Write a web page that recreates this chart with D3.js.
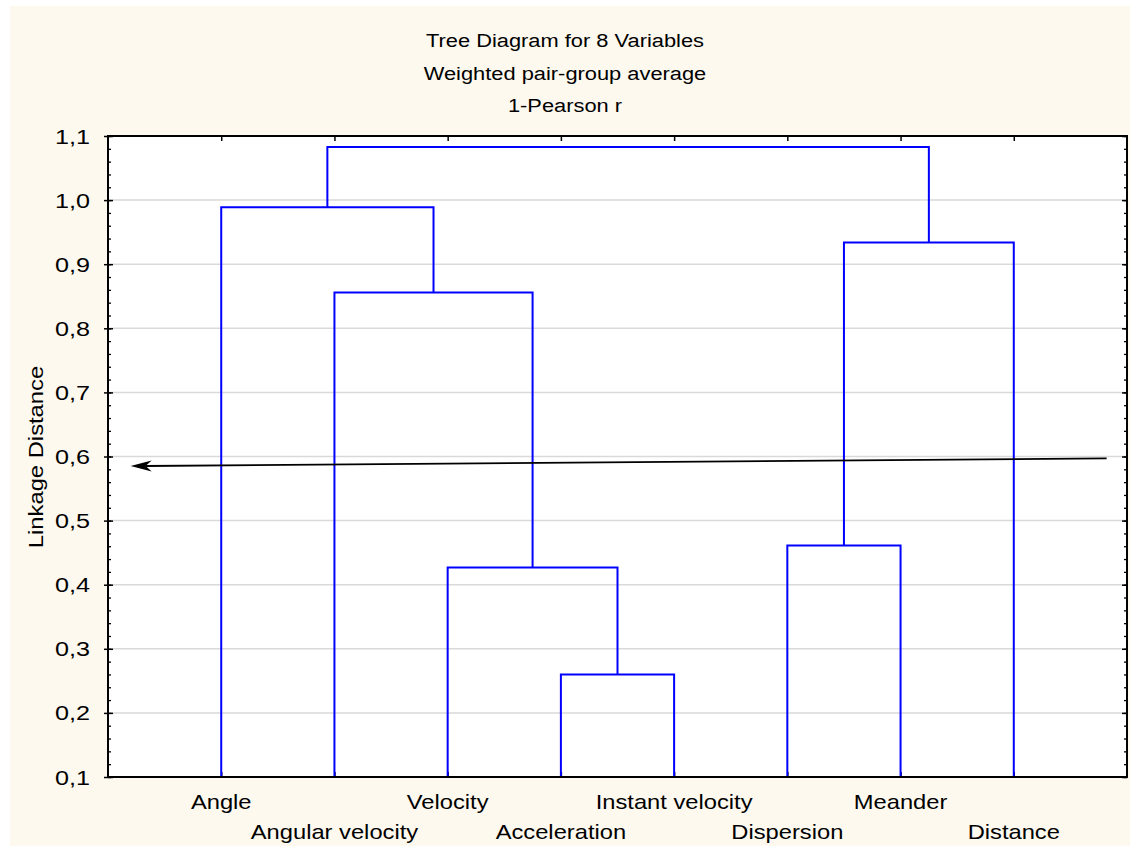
<!DOCTYPE html>
<html>
<head>
<meta charset="utf-8">
<script src="https://cdn.jsdelivr.net/npm/d3@7"></script>
<style>
  html, body { margin: 0; padding: 0; background: #ffffff; }
  svg { display: block; }
  text { font-family: "Liberation Sans", Arial, sans-serif; fill: #000; }
</style>
</head>
<body>
<svg id="chart" width="1130" height="846"></svg>
<script>
// ---- data ----
const leaves = ["Angle", "Angular velocity", "Velocity", "Acceleration",
                "Instant velocity", "Dispersion", "Meander", "Distance"];
// merges: child ids (0-7 leaves, 8+ = earlier merges in this list)
const mergeLeft   = [3, 2, 1, 0, 5, 12, 11];
const mergeRight  = [4, 8, 9, 10, 6, 7, 13];
const mergeHeight = [0.26, 0.427, 0.856, 0.989, 0.461, 0.934, 1.083];
const yTicks = [0.1, 0.2, 0.3, 0.4, 0.5, 0.6, 0.7, 0.8, 0.9, 1.0, 1.1];
const titles = ["Tree Diagram for 8 Variables", "Weighted pair-group average", "1-Pearson r"];
const yTitle = "Linkage Distance";
// annotation arrow (data units): from [x,y] to [x,y]
const arrowFrom = [8.82, 0.597];
const arrowTo   = [0.20, 0.585];

// ---- layout ----
const svg = d3.select("#chart");
const L = 108, R = 1127, T = 136, B = 777;
const x = d3.scaleLinear().domain([0, leaves.length + 1]).range([L, R]);
const y = d3.scaleLinear().domain([0.1, 1.1]).range([B, T]);

// helper: text with horizontal stretch
function stretchedText(g, tx, ty, str, size, sx, anchor, rot) {
  return g.append("text")
    .attr("transform", `translate(${tx},${ty})` + (rot ? ` rotate(${rot})` : "") + ` scale(${sx},1)`)
    .attr("text-anchor", anchor).attr("font-size", size).text(str);
}

// background panel
svg.append("rect").attr("x", 10).attr("y", 6).attr("width", 1120).attr("height", 840)
  .attr("fill", "#fdf9ef");
svg.append("rect").attr("x", L).attr("y", T).attr("width", R - L).attr("height", B - T)
  .attr("fill", "#ffffff");

// gridlines
svg.append("g").selectAll("line").data(yTicks.slice(1, -1)).join("line")
  .attr("x1", L).attr("x2", R)
  .attr("y1", d => y(d)).attr("y2", d => y(d))
  .attr("stroke", "#d9d9d9").attr("stroke-width", 1.5);

// axes ticks
const fmt = d => d3.format(".1f")(d).replace(".", ",");
const minorTicks = d3.range(0, 51).map(i => 0.1 + i * 0.02);

const gL = svg.append("g").attr("transform", `translate(${L},0)`)
  .call(d3.axisLeft(y).tickValues(yTicks).tickSize(4).tickFormat(""));
gL.select(".domain").remove();
gL.selectAll(".tick line").attr("x2", 5).attr("x1", -4).attr("stroke", "#000").attr("stroke-width", 1.5);
svg.append("g").attr("transform", `translate(${L},0)`).call(d3.axisRight(y).tickValues(minorTicks).tickSize(3).tickFormat(""))
  .call(g => g.select(".domain").remove())
  .selectAll("line").attr("stroke", "#000").attr("stroke-width", 1.3);

const gR = svg.append("g").attr("transform", `translate(${R},0)`)
  .call(d3.axisLeft(y).tickValues(yTicks).tickSize(5).tickFormat(""));
gR.select(".domain").remove();
gR.selectAll("line").attr("stroke", "#000").attr("stroke-width", 1.5);
svg.append("g").attr("transform", `translate(${R},0)`).call(d3.axisLeft(y).tickValues(minorTicks).tickSize(3).tickFormat(""))
  .call(g => g.select(".domain").remove())
  .selectAll("line").attr("stroke", "#000").attr("stroke-width", 1.3);

const leafPos = leaves.map((d, i) => i + 1);
const gT = svg.append("g").attr("transform", `translate(0,${T})`)
  .call(d3.axisBottom(x).tickValues(leafPos).tickSize(5).tickFormat(""));
gT.select(".domain").remove();
gT.selectAll("line").attr("stroke", "#000").attr("stroke-width", 1.5);
const gB = svg.append("g").attr("transform", `translate(0,${B})`)
  .call(d3.axisTop(x).tickValues(leafPos).tickSize(5).tickFormat(""));
gB.select(".domain").remove();
gB.selectAll("line").attr("stroke", "#000").attr("stroke-width", 1.5);

// y tick labels
const gYL = svg.append("g");
yTicks.forEach(v => stretchedText(gYL, 90, y(v) + 7.5, fmt(v), 21, 1.2, "end"));

// x labels (alternating rows)
const gXL = svg.append("g");
leaves.forEach((d, i) => stretchedText(gXL, x(i + 1), i % 2 === 0 ? 808.5 : 838.5, d, 21, 1.13, "middle"));

// dendrogram
const nodeX = leaves.map((d, i) => i + 1);
const nodeH = leaves.map(() => 0.1);
mergeLeft.forEach((a, k) => {
  const b = mergeRight[k];
  nodeX.push((nodeX[a] + nodeX[b]) / 2);
  nodeH.push(mergeHeight[k]);
});
const links = mergeLeft.map((a, k) => {
  const b = mergeRight[k];
  const h = mergeHeight[k];
  const p = d3.path();
  p.moveTo(x(nodeX[a]), y(nodeH[a]));
  p.lineTo(x(nodeX[a]), y(h));
  p.lineTo(x(nodeX[b]), y(h));
  p.lineTo(x(nodeX[b]), y(nodeH[b]));
  return p.toString();
});
svg.append("g").selectAll("path").data(links).join("path")
  .attr("d", d => d).attr("fill", "none")
  .attr("stroke", "#0000ff").attr("stroke-width", 2);

// plot border
svg.append("rect").attr("x", L).attr("y", T).attr("width", R - L).attr("height", B - T)
  .attr("fill", "none").attr("stroke", "#000").attr("stroke-width", 2);

// arrow annotation
const x0 = x(arrowFrom[0]), y0 = y(arrowFrom[1]);
const x1 = x(arrowTo[0]), y1 = y(arrowTo[1]);
const ang = Math.atan2(y1 - y0, x1 - x0);
const hl = 21, hw = 5.5, back = 15;
const pt = (dx, dy) => [x1 - Math.cos(ang) * dx + Math.sin(ang) * dy, y1 - Math.sin(ang) * dx - Math.cos(ang) * dy];
const lineEnd = pt(back, 0);
svg.append("line").attr("x1", x0).attr("y1", y0).attr("x2", lineEnd[0]).attr("y2", lineEnd[1])
  .attr("stroke", "#000").attr("stroke-width", 1.8);
const head = [pt(0, 0), pt(hl, hw), pt(back, 0), pt(hl, -hw)];
svg.append("path").attr("d", "M" + head.map(p => p.join(",")).join("L") + "Z").attr("fill", "#000");

// titles
const gTi = svg.append("g");
titles.forEach((t, i) => stretchedText(gTi, 565, 47 + i * 32.5, t, 19, 1.15, "middle"));

// y title
stretchedText(svg, 43, 457, yTitle, 20.5, 1.16, "middle", -90);
</script>
</body>
</html>
